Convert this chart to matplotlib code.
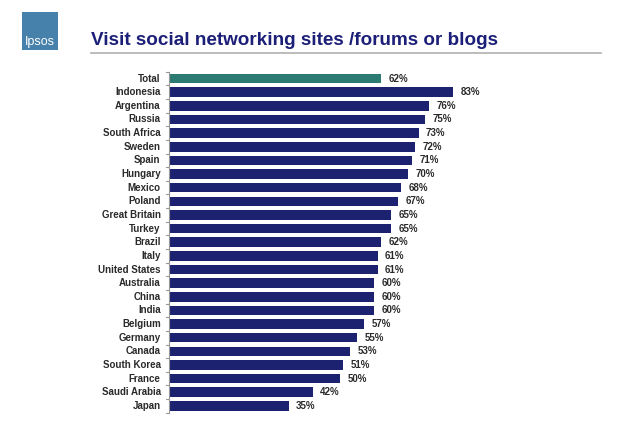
import matplotlib.pyplot as plt
from matplotlib.patches import Rectangle

plt.rcParams['font.family'] = ['Liberation Sans', 'DejaVu Sans']

countries = ['Total', 'Indonesia', 'Argentina', 'Russia', 'South Africa', 'Sweden',
             'Spain', 'Hungary', 'Mexico', 'Poland', 'Great Britain', 'Turkey',
             'Brazil', 'Italy', 'United States', 'Australia', 'China', 'India',
             'Belgium', 'Germany', 'Canada', 'South Korea', 'France',
             'Saudi Arabia', 'Japan']
values = [62, 83, 76, 75, 73, 72, 71, 70, 68, 67, 65, 65, 62, 61, 61, 60, 60, 60,
          57, 55, 53, 51, 50, 42, 35]

navy = '#1c2170'
teal = '#2b7b73'
colors = [teal] + [navy] * (len(values) - 1)

fig = plt.figure(figsize=(6.25, 4.22), dpi=100)
ax = fig.add_axes([0.2704, 0.022, 0.547, 0.808])

y = list(range(len(countries)))
ax.barh(y, values, height=0.7, color=colors)
ax.set_ylim(len(countries) - 0.5, -0.5)
ax.set_xlim(0, 100)

for yi, v in zip(y, values):
    ax.text(v + 2.2, yi, f'{v}%', va='center', ha='left', fontsize=7,
            fontweight='bold', color='#2a2a2a')

ax.set_yticks(y)
ax.set_yticklabels(countries, fontsize=7, fontweight='bold', color='#2a2a2a',
                   va='center')
ax.tick_params(axis='y', length=0, pad=6)
ax.set_xticks([])
for s in ['top', 'right', 'bottom']:
    ax.spines[s].set_visible(False)
ax.spines['left'].set_color('#999999')
ax.spines['left'].set_linewidth(0.8)
# small tick marks between bars on the axis
for yi in [i - 0.5 for i in range(len(countries) + 1)]:
    ax.plot([-0.8, 0], [yi, yi], color='#999999', lw=0.8, clip_on=False)

# title and rule
fig.text(0.146, 0.905, 'Visit social networking sites /forums or blogs',
         fontsize=13.6, fontweight='bold', color='#1c1f78', va='center')
fig.add_artist(plt.Line2D([0.146, 0.962], [0.875, 0.875], color='#b0b0b0', lw=1.2))

# logo
fig.add_artist(Rectangle((0.035, 0.882), 0.058, 0.09, transform=fig.transFigure,
                         facecolor='#4a6fb5', edgecolor='none'))
fig.add_artist(Rectangle((0.035, 0.882), 0.058, 0.09, transform=fig.transFigure,
                         facecolor='#3fa59a', edgecolor='none', alpha=0.35))
fig.text(0.064, 0.9, 'Ipsos', fontsize=9, color='white', ha='center', va='center')

fig.savefig('out.png', dpi=100)
